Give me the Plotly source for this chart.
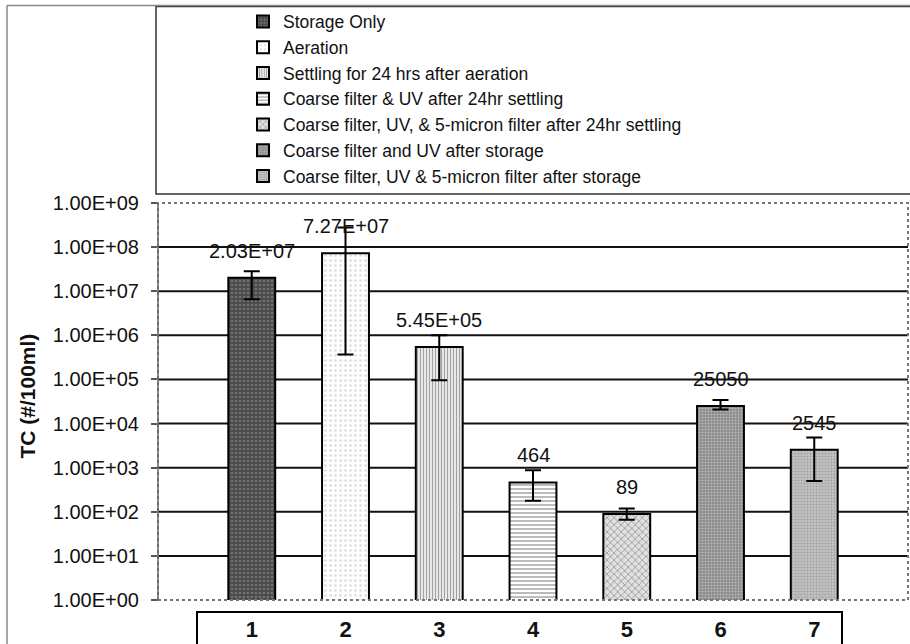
import math
import plotly.graph_objects as go

# ---- data ----
categories = [1, 2, 3, 4, 5, 6, 7]
series_names = [
    "Storage Only",
    "Aeration",
    "Settling for 24 hrs after aeration",
    "Coarse filter & UV after 24hr settling",
    "Coarse filter, UV, & 5-micron filter after 24hr settling",
    "Coarse filter and UV after storage",
    "Coarse filter, UV & 5-micron filter after storage",
]
values = [2.03e7, 7.27e7, 5.45e5, 464, 89, 25050, 2545]
value_labels = ["2.03E+07", "7.27E+07", "5.45E+05", "464", "89", "25050", "2545"]
err_upper = [2.85e7, 2.8e8, 1.0e6, 870, 118, 3.4e4, 4.8e3]
err_lower = [6.6e6, 3.7e5, 9.6e4, 178, 66, 2.07e4, 500]
y_tickvals = [1e0, 1e1, 1e2, 1e3, 1e4, 1e5, 1e6, 1e7, 1e8, 1e9]
y_ticktext = ["1.00E+00", "1.00E+01", "1.00E+02", "1.00E+03", "1.00E+04",
              "1.00E+05", "1.00E+06", "1.00E+07", "1.00E+08", "1.00E+09"]
x_ticktext = ["<b>1</b>", "<b>2</b>", "<b>3</b>", "<b>4</b>", "<b>5</b>", "<b>6</b>", "<b>7</b>"]
y_title = "TC (#/100ml)"

# ---- styles ----
patterns = [
    dict(shape=".", bgcolor="#4a4a4a", fgcolor="#9a9a9a", size=4, solidity=0.35),
    dict(shape=".", bgcolor="#ffffff", fgcolor="#b5b5b5", size=5, solidity=0.2),
    dict(shape="|", bgcolor="#ffffff", fgcolor="#444444", size=3, solidity=0.5),
    dict(shape="-", bgcolor="#ffffff", fgcolor="#555555", size=4, solidity=0.4),
    dict(shape="x", bgcolor="#e0e0e0", fgcolor="#555555", size=5, solidity=0.3),
    dict(shape=".", bgcolor="#8a8a8a", fgcolor="#e8e8e8", size=3, solidity=0.35),
    dict(shape=".", bgcolor="#c4c4c4", fgcolor="#7a7a7a", size=3, solidity=0.35),
]

W, H = 910, 644
L, R, T, B = 158, 908, 203, 603


def px(x):
    return (x - L) / (R - L)


def py(y):
    return (B - y) / (B - T)


fig = go.Figure()
for i, cat in enumerate(categories):
    fig.add_trace(go.Bar(
        x=[cat], y=[values[i]], name=series_names[i], width=0.5,
        marker=dict(color=patterns[i]["bgcolor"], line=dict(color="#000000", width=2),
                    pattern=patterns[i]),
        error_y=dict(type="data", symmetric=False,
                     array=[err_upper[i] - values[i]],
                     arrayminus=[values[i] - err_lower[i]],
                     color="#000000", thickness=2, width=8),
    ))

annotations = []
for i, cat in enumerate(categories):
    annotations.append(dict(x=cat, y=math.log10(values[i]), xref="x", yref="y", yshift=27,
                            text=value_labels[i], showarrow=False,
                            font=dict(family="Arial, Liberation Sans", size=20, color="#111111"),
                            xanchor="center", yanchor="middle"))
annotations.append(dict(x=px(28), y=py(398), xref="paper", yref="paper", text=f"<b>{y_title}</b>",
                        textangle=-90, showarrow=False,
                        font=dict(family="Arial, Liberation Sans", size=21, color="#111111"),
                        xanchor="center", yanchor="middle"))

shapes = []
for v in y_tickvals[1:-1]:
    shapes.append(dict(type="line", xref="paper", yref="y", x0=0, x1=1, y0=v, y1=v,
                       line=dict(color="#111111", width=2), layer="below"))
shapes.append(dict(type="rect", xref="paper", yref="paper", x0=0, x1=1, y0=0, y1=1,
                   line=dict(color="#777777", width=2, dash="dot"), layer="above"))
shapes.append(dict(type="line", xref="paper", yref="paper", x0=0, x1=0, y0=0, y1=1,
                   line=dict(color="#666666", width=1.5), layer="above"))
shapes.append(dict(type="rect", xref="paper", yref="paper", x0=px(156), x1=px(915), y0=py(194), y1=py(5),
                   line=dict(color="#333333", width=1.5)))
shapes.append(dict(type="line", xref="paper", yref="paper", x0=px(7), x1=px(7), y0=py(4), y1=py(660),
                   line=dict(color="#888888", width=1.5)))
shapes.append(dict(type="line", xref="paper", yref="paper", x0=px(7), x1=px(915), y0=py(4), y1=py(4),
                   line=dict(color="#888888", width=1.5)))
shapes.append(dict(type="rect", xref="paper", yref="paper", x0=px(197), x1=px(842), y0=py(680), y1=py(615),
                   line=dict(color="#000000", width=2)))

fig.update_layout(
    width=W, height=H,
    margin=dict(l=L, r=W - R, t=T, b=H - B, pad=0),
    paper_bgcolor="#ffffff", plot_bgcolor="#ffffff",
    barmode="overlay",
    showlegend=True,
    legend=dict(x=px(243), y=py(2), xanchor="left", yanchor="top",
                font=dict(family="Arial, Liberation Sans", size=17.5, color="#111111"),
                bgcolor="rgba(0,0,0,0)", traceorder="normal"),
    xaxis=dict(range=[0, 8], tickvals=categories, ticktext=x_ticktext, showgrid=False,
               zeroline=False, showline=False, ticks="", ticklabelstandoff=14,
               tickfont=dict(family="Arial, Liberation Sans", size=22, color="#111111")),
    yaxis=dict(type="log", range=[0, 9], tickvals=y_tickvals, ticktext=y_ticktext,
               showgrid=False, zeroline=False, showline=False, ticks="outside", ticklen=6,
               tickcolor="#555555", tickwidth=1.5, ticklabelstandoff=8,
               tickfont=dict(family="Arial, Liberation Sans", size=20, color="#111111")),
    annotations=annotations, shapes=shapes,
)

fig.write_html("out.html")
